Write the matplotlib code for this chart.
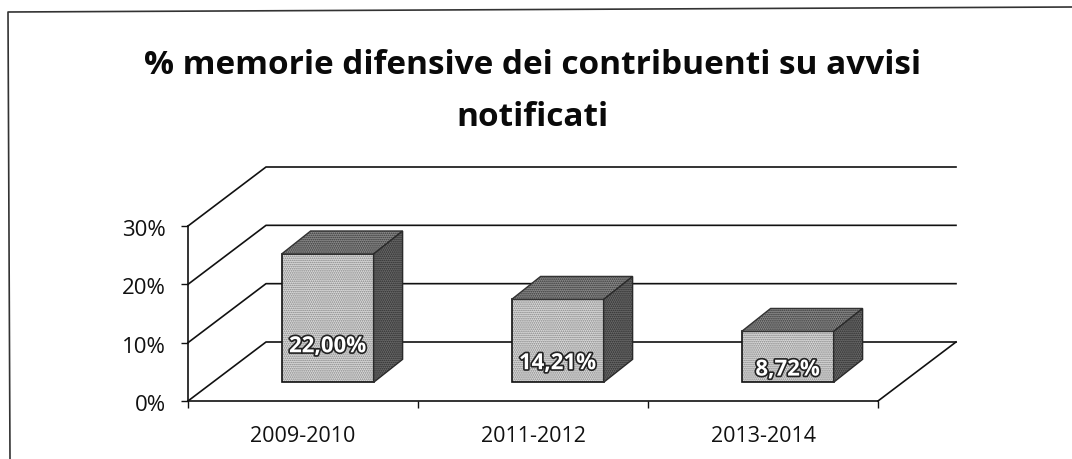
import matplotlib
matplotlib.use("Agg")
import matplotlib.pyplot as plt
import matplotlib.patheffects as pe
from matplotlib.lines import Line2D
from matplotlib.transforms import ScaledTranslation

# Data
categories = ["2009-2010", "2011-2012", "2013-2014"]
values = [22.00, 14.21, 8.72]
value_labels = ["22,00%", "14,21%", "8,72%"]
label_heights = [9.3, 6.4, 5.3]
grid_values = [0, 10, 20, 30]
tick_labels = ["0%", "10%", "20%", "30%"]

# 3D look: offsets of the back wall and of the bars, in data units
wall_dx = 78 / 230
wall_dy = 59 / 175 * 30
bar_shift_x = 0.107
bar_shift_y = 3.2
bar_width = 0.40
depth_dx = 29 / 230
depth_dy = 23 / 175 * 30
line_color = "#111111"

plt.rcParams["font.family"] = ["Open Sans", "DejaVu Sans"]
plt.rcParams["hatch.linewidth"] = 0.8

W, H = 1072, 459
fig = plt.figure(figsize=(W / 100, H / 100), dpi=100, facecolor="white")
ax = fig.add_axes([188 / W, (H - 401) / H, 690 / W, 175 / H])
ax.set_xlim(0, 3)
ax.set_ylim(0, 30)
ax.patch.set_alpha(0)

# Outer frame: only the left and top edges show, slightly tilted by the scan
fig.add_artist(Line2D([10 / W, 8 / W, 1],
                      [0, (H - 12) / H, (H - 7) / H],
                      color="#333333", lw=1.2))

# Walls and gridlines
for v in grid_values:
    ax.plot([0, wall_dx, 3 + wall_dx], [v, v + wall_dy, v + wall_dy],
            color=line_color, lw=1.2, clip_on=False, zorder=1)
ax.plot([3, 3 + wall_dx], [0, wall_dy], color=line_color, lw=1.2,
        clip_on=False, zorder=1)

# Bars
for i, v in enumerate(values):
    left = i + 0.5 + bar_shift_x - bar_width / 2
    right = left + bar_width
    base = bar_shift_y
    top = base + v

    ax.bar(left, v, width=bar_width, bottom=base, align="edge",
           facecolor="#dcdcdc", edgecolor="#808080", hatch="........",
           lw=0, clip_on=False, zorder=3)
    ax.bar(left, v, width=bar_width, bottom=base, align="edge",
           facecolor="none", edgecolor=line_color, lw=1.2,
           clip_on=False, zorder=3)
    ax.fill([left, right, right + depth_dx, left + depth_dx],
            [top, top, top + depth_dy, top + depth_dy],
            facecolor="#8c8c8c", edgecolor="#333333", hatch="........",
            lw=1.0, clip_on=False, zorder=3)
    ax.fill([right, right + depth_dx, right + depth_dx, right],
            [base, base + depth_dy, top + depth_dy, top],
            facecolor="#6a6a6a", edgecolor="#2a2a2a", hatch="........",
            lw=1.0, clip_on=False, zorder=3)
    ax.text(i + 0.5 + bar_shift_x, label_heights[i], value_labels[i],
            ha="center", va="center", color="white", fontsize=16,
            fontweight="bold", zorder=5, clip_on=False,
            path_effects=[pe.withStroke(linewidth=2.4, foreground="#222222")])

# Axes
for side in ["top", "right"]:
    ax.spines[side].set_visible(False)
for side in ["left", "bottom"]:
    ax.spines[side].set_color(line_color)
    ax.spines[side].set_linewidth(1.2)
ax.set_yticks(grid_values)
ax.set_yticklabels(tick_labels, fontsize=16, color="#111111")
ax.set_xticks([0, 1, 2, 3])
ax.set_xticklabels([])
ax.set_xticks([0.5, 1.5, 2.5], minor=True)
ax.set_xticklabels(categories, minor=True, fontsize=15.5, color="#111111")
ax.tick_params(axis="both", which="major", length=5, width=1.0, color=line_color)
ax.tick_params(axis="x", which="minor", length=0, pad=18)
ax.tick_params(axis="y", pad=11)

# Tick labels sit a little below their ticks
shift_down = ScaledTranslation(0, -1.5 / 72, fig.dpi_scale_trans)
for label in ax.get_yticklabels():
    label.set_transform(label.get_transform() + shift_down)

fig.text(532 / W, (H - 65) / H, "% memorie difensive dei contribuenti su avvisi",
         ha="center", va="center", fontsize=24, fontweight="bold", color="#0a0a0a")
fig.text(532 / W, (H - 118) / H, "notificati",
         ha="center", va="center", fontsize=24, fontweight="bold", color="#0a0a0a")

fig.savefig("out.png", dpi=100)
